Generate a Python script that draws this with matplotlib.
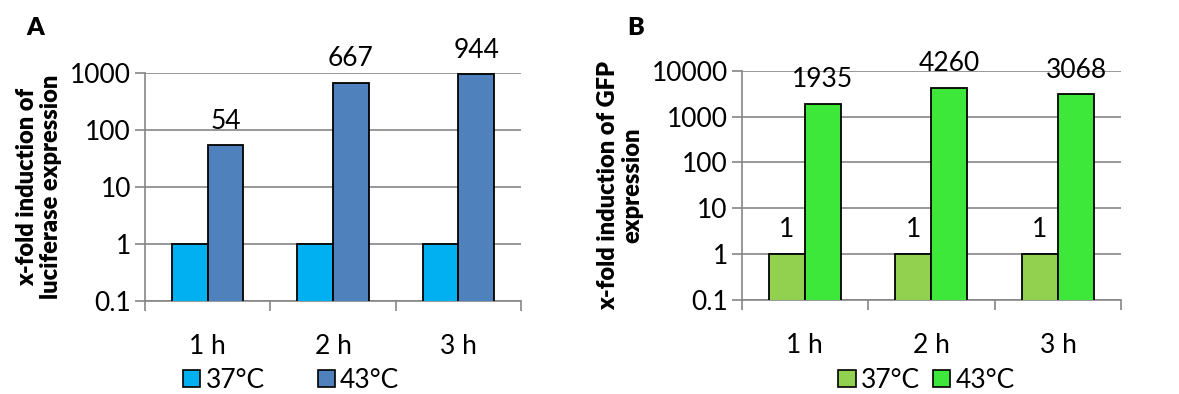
import matplotlib
matplotlib.use('agg')
import matplotlib.pyplot as plt
import numpy as np
from matplotlib.patches import Patch

# time points and fold-induction values
times = ["1 h", "2 h", "3 h"]
temps = ["37°C", "43°C"]
luc_37 = [1, 1, 1]
luc_43 = [54, 667, 944]
gfp_37 = [1, 1, 1]
gfp_43 = [1935, 4260, 3068]

luc_ticks = [0.1, 1, 10, 100, 1000]
luc_ticklabels = ["0.1", "1", "10", "100", "1000"]
gfp_ticks = [0.1, 1, 10, 100, 1000, 10000]
gfp_ticklabels = ["0.1", "1", "10", "100", "1000", "10000"]

plt.rcParams['font.family'] = ['Lato', 'DejaVu Sans']
GRID = '#868686'
FS = 19


def label_bars(ax, xs, vals):
    for xi, v in zip(xs, vals):
        ax.annotate(str(v), (xi, v), xytext=(0, 12), textcoords='offset points',
                    ha='center', va='baseline', fontsize=FS, annotation_clip=False)


def draw_panel(ax, lo, hi, colors, ticks, ticklabels, ylim, ylabel, label_lo):
    x = np.arange(len(times))
    w = 0.285
    ax.bar(x - w / 2, lo, w, color=colors[0], edgecolor='black', linewidth=1.3, zorder=3)
    ax.bar(x + w / 2, hi, w, color=colors[1], edgecolor='black', linewidth=1.3, zorder=3)
    ax.set_yscale('log')
    ax.set_ylim(*ylim)
    ax.set_xlim(-0.5, len(times) - 0.5)
    ax.yaxis.set_major_locator(matplotlib.ticker.FixedLocator(ticks))
    ax.yaxis.set_minor_locator(matplotlib.ticker.NullLocator())
    ax.set_yticklabels(ticklabels)
    ax.yaxis.grid(True, color=GRID, linewidth=1.2, zorder=0)
    ax.set_axisbelow(True)

    # category ticks sit between groups, labels centred under groups
    ax.set_xticks(np.arange(len(times) + 1) - 0.5)
    ax.set_xticklabels([])
    ax.set_xticks(x, minor=True)
    ax.set_xticklabels(times, minor=True)
    ax.tick_params(axis='x', which='minor', length=0, pad=24, labelsize=FS)
    ax.tick_params(axis='x', which='major', length=7, width=1.2, color=GRID)
    ax.tick_params(axis='y', length=7, width=1.2, color=GRID, labelsize=FS, pad=3)

    for s in ['top', 'right']:
        ax.spines[s].set_visible(False)
    for s in ['left', 'bottom']:
        ax.spines[s].set_color(GRID)
        ax.spines[s].set_linewidth(1.2)

    ax.set_ylabel(ylabel, fontsize=17, fontweight='heavy', linespacing=1.1, labelpad=6)

    label_bars(ax, x + w / 2, hi)
    if label_lo:
        label_bars(ax, x - w / 2, lo)


fig = plt.figure(figsize=(11.79, 3.94), dpi=100)
axA = fig.add_axes([0.123, 0.236, 0.319, 0.579])
axB = fig.add_axes([0.629, 0.239, 0.322, 0.581])

colA = ['#00B0F0', '#4F81BD']
colB = ['#92D050', '#3EE83A']

draw_panel(axA, luc_37, luc_43, colA, luc_ticks, luc_ticklabels, (0.1, 1000),
           "x-fold induction of\nluciferase expression", False)
draw_panel(axB, gfp_37, gfp_43, colB, gfp_ticks, gfp_ticklabels, (0.1, 10000),
           "x-fold induction of GFP\nexpression", True)

fig.text(0.030, 0.93, "A", fontsize=18, fontweight='heavy', ha='center', va='center')
fig.text(0.539, 0.93, "B", fontsize=18, fontweight='heavy', ha='center', va='center')

for cols, cx, spacing in [(colA, 0.247, 2.0), (colB, 0.786, 0.5)]:
    handles = [Patch(facecolor=c, edgecolor='black', linewidth=1.2) for c in cols]
    fig.legend(handles, temps, loc='center', bbox_to_anchor=(cx, 0.035), ncol=2,
               frameon=False, fontsize=FS, handlelength=0.65, handleheight=0.65,
               handletextpad=0.2, columnspacing=spacing, borderaxespad=0)

fig.savefig("out.png", dpi=100)
